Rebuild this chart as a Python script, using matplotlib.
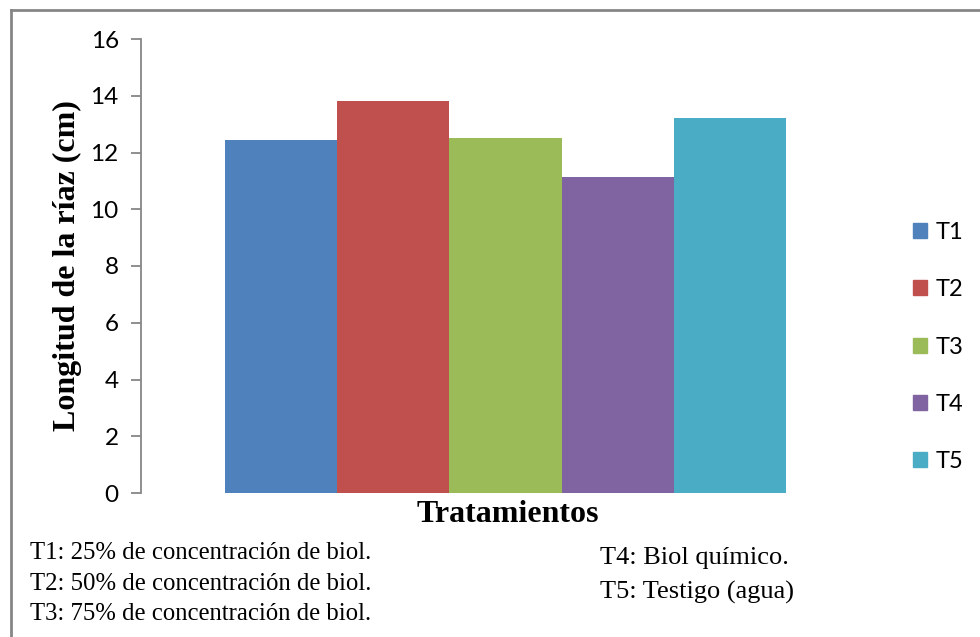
import matplotlib
matplotlib.use("Agg")
import matplotlib.pyplot as plt
from matplotlib.patches import Rectangle
import numpy as np

# Data
treatments = ["T1", "T2", "T3", "T4", "T5"]
root_length = [12.45, 13.8, 12.5, 11.15, 13.2]
colors = ["#4F81BD", "#C0504D", "#9BBB59", "#8064A2", "#4BACC6"]
y_ticks = [0, 2, 4, 6, 8, 10, 12, 14, 16]
notes_left = [
    "T1: 25% de concentración de biol.",
    "T2: 50% de concentración de biol.",
    "T3: 75% de concentración de biol.",
]
notes_right = [
    "T4: Biol químico.",
    "T5: Testigo (agua)",
]

W, H = 980, 637
fig = plt.figure(figsize=(W / 100, H / 100), dpi=100)
fig.patch.set_facecolor("white")

# Outer frame (top and left edges visible)
border = "#868686"
fig.add_artist(plt.Line2D([10.5 / W, 1.0], [1 - 10 / H, 1 - 10 / H],
                          transform=fig.transFigure, color=border, lw=2))
fig.add_artist(plt.Line2D([10.5 / W, 10.5 / W], [0, 1 - 10 / H],
                          transform=fig.transFigure, color=border, lw=2))

ax = fig.add_axes([141 / W, 1 - 493 / H, (870 - 141) / W, (493 - 39) / H])
x = np.arange(len(treatments))
bars = ax.bar(x, root_length, width=1.0, color=colors, label=treatments, zorder=2)

ax.set_xlim(-1.25, 5.25)
ax.set_ylim(0, 16)
ax.set_yticks(y_ticks)
ax.set_yticklabels([str(t) for t in y_ticks], fontfamily="Lato", fontsize=17.5)
ax.set_xticks([])

for side in ["top", "right", "bottom"]:
    ax.spines[side].set_visible(False)
ax.spines["left"].set_color(border)
ax.spines["left"].set_linewidth(1.3)
ax.tick_params(axis="y", direction="out", length=7, width=1.3, color=border, pad=9)

ax.set_ylabel("Longitud de la ríaz (cm)", fontfamily="Liberation Serif",
              fontweight="bold", fontsize=23)
ax.yaxis.set_label_coords(-(141 - 82) / (870 - 141), 0.5)

fig.text(508 / W, 1 - 515 / H, "Tratamientos", ha="center", va="center",
         fontfamily="Liberation Serif", fontweight="bold", fontsize=23)

# Legend
handles = [Rectangle((0, 0), 1, 1, color=c) for c in colors]
leg = fig.legend(handles, treatments, loc="center left",
                 bbox_to_anchor=(892 / W, 1 - 347 / H), frameon=False,
                 prop={"family": "Lato", "size": 17},
                 handlelength=0.6, handleheight=0.6, handletextpad=0.35,
                 labelspacing=1.54)

# Treatment descriptions
for i, s in enumerate(notes_left):
    fig.text(30 / W, 1 - (553 + i * 30.5) / H, s, ha="left", va="center",
             fontfamily="Liberation Serif", fontsize=17.8)
for i, s in enumerate(notes_right):
    fig.text(600 / W, 1 - (558 + i * 34) / H, s, ha="left", va="center",
             fontfamily="Liberation Serif", fontsize=19)

fig.savefig("out.png", dpi=100, facecolor="white")
